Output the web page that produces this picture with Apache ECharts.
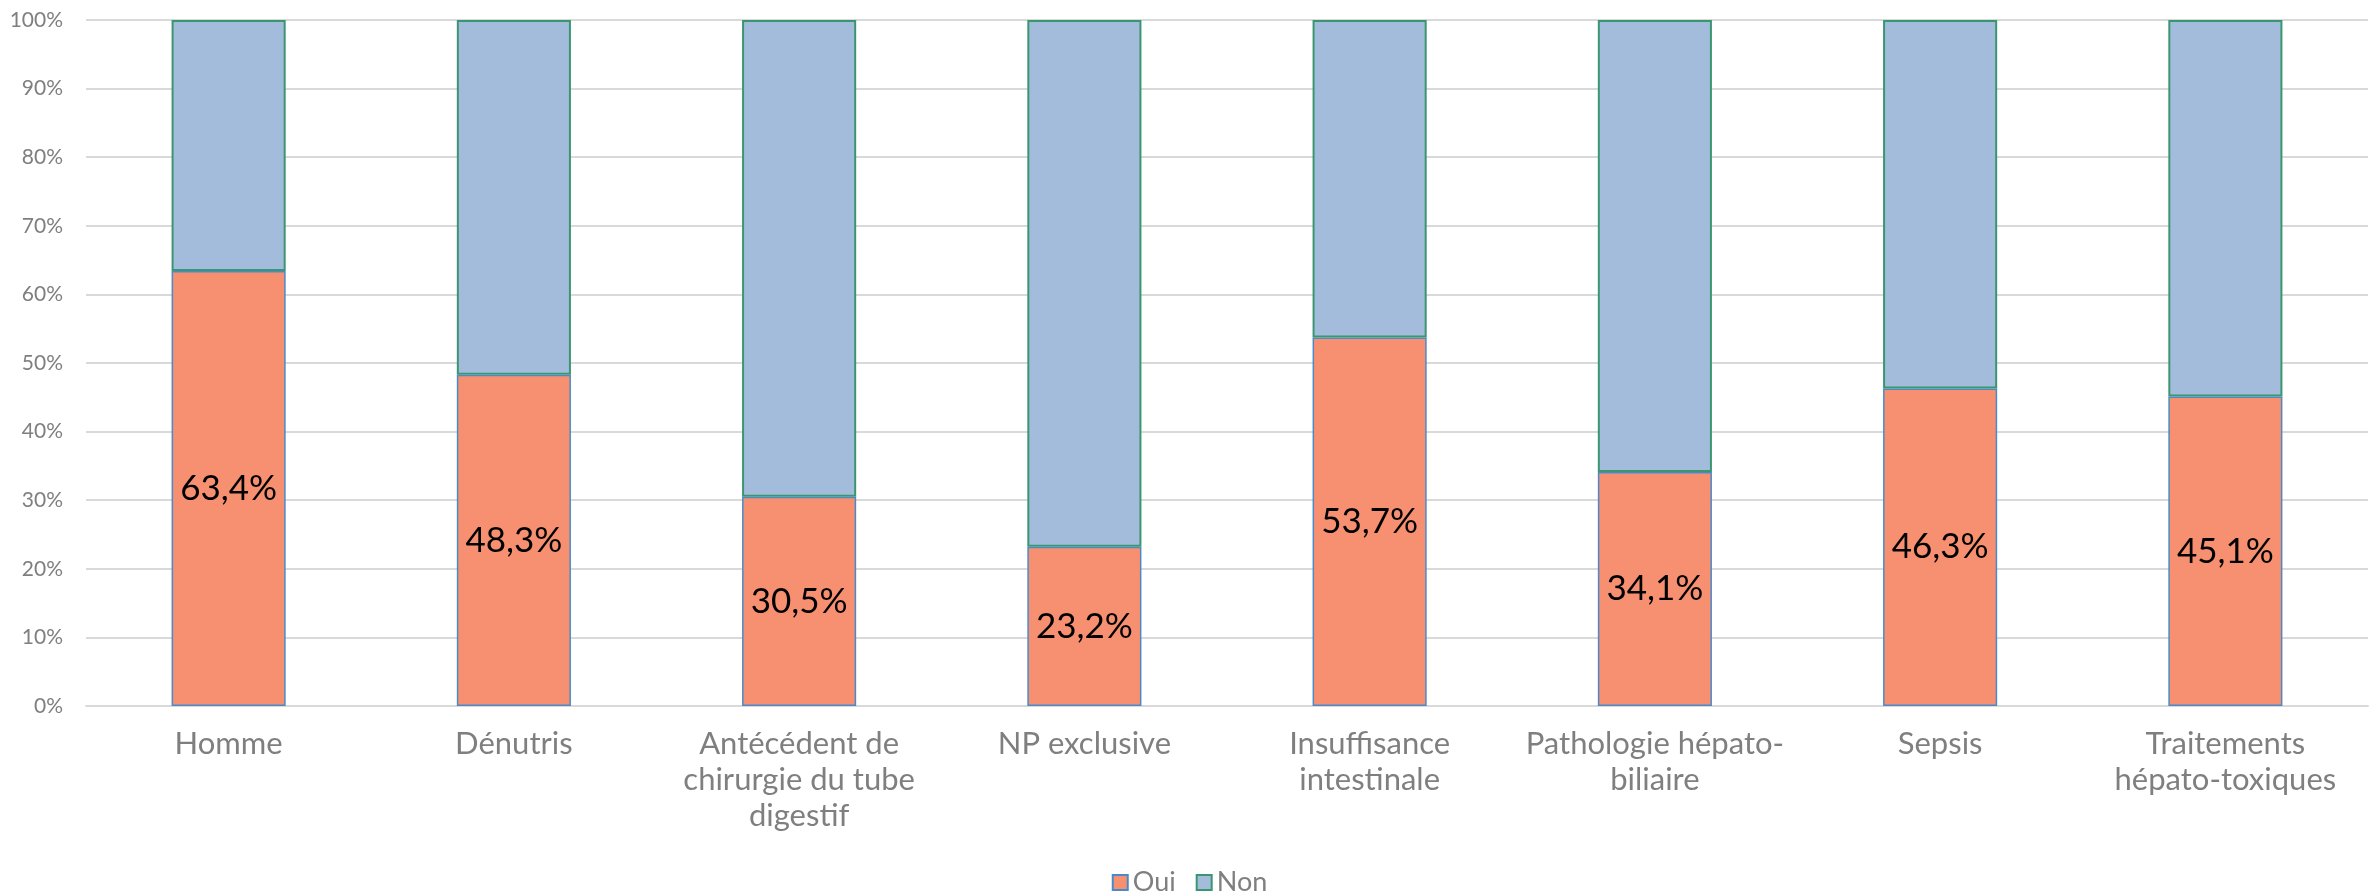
<!DOCTYPE html>
<html>
<head>
<meta charset="utf-8">
<script src="https://cdn.jsdelivr.net/npm/echarts@6/dist/echarts.min.js"></script>
<style>
  html, body { margin: 0; padding: 0; background: #fff; }
  #chart { width: 2379px; height: 893px; }
</style>
</head>
<body>
<div id="chart"></div>
<script>
const categories = [
    'Homme',
    'Dénutris',
    'Antécédent de\nchirurgie du tube\ndigestif',
    'NP exclusive',
    'Insuffisance\nintestinale',
    'Pathologie hépato-\nbiliaire',
    'Sepsis',
    'Traitements\nhépato-toxiques'
];
const ouiValues = [63.4, 48.3, 30.5, 23.2, 53.7, 34.1, 46.3, 45.1];
const nonValues = [36.6, 51.7, 69.5, 76.8, 46.3, 65.9, 53.7, 54.9];
const yTicks = [0, 10, 20, 30, 40, 50, 60, 70, 80, 90, 100];

const fontName = 'Lato';
const greyText = '#7f7f7f';

const myChart = echarts.init(document.getElementById('chart'));

const option = {
    backgroundColor: '#ffffff',
    animation: false,
    textStyle: { fontFamily: fontName },
    grid: {
        left: 86,
        right: 11,
        top: 20,
        bottom: 187,
        containLabel: false
    },
    legend: {
        data: ['Oui', 'Non'],
        left: 'center',
        top: 864,
        icon: 'rect',
        itemWidth: 15,
        itemHeight: 15,
        itemGap: 20,
        textStyle: { fontSize: 27, color: greyText, fontFamily: fontName }
    },
    xAxis: {
        type: 'category',
        data: categories,
        axisLine: { show: true, lineStyle: { color: '#d9d9d9', width: 2 } },
        axisTick: { show: false },
        axisLabel: {
            color: greyText,
            fontSize: 31,
            lineHeight: 36,
            margin: 20,
            interval: 0
        }
    },
    yAxis: {
        type: 'value',
        min: yTicks[0],
        max: yTicks[yTicks.length - 1],
        interval: 10,
        axisLine: { show: false },
        axisTick: { show: false },
        splitLine: { lineStyle: { color: '#d9d9d9', width: 2 } },
        axisLabel: {
            color: greyText,
            fontSize: 21,
            margin: 23,
            formatter: '{value}%'
        }
    },
    series: [
        {
            name: 'Oui',
            type: 'bar',
            stack: 'total',
            data: ouiValues,
            barWidth: '40%',
            itemStyle: {
                color: '#f79070',
                borderColor: '#4a8ac9',
                borderWidth: 1.5
            },
            label: {
                show: true,
                position: 'inside',
                color: '#000',
                fontSize: 35,
                fontFamily: fontName,
                formatter: function (p) {
                    return p.value.toFixed(1).replace('.', ',') + '%';
                }
            }
        },
        {
            name: 'Non',
            type: 'bar',
            stack: 'total',
            data: nonValues,
            barWidth: '40%',
            itemStyle: {
                color: '#a3bcdb',
                borderColor: '#3a9670',
                borderWidth: 2
            }
        }
    ]
};

myChart.setOption(option);
</script>
</body>
</html>
